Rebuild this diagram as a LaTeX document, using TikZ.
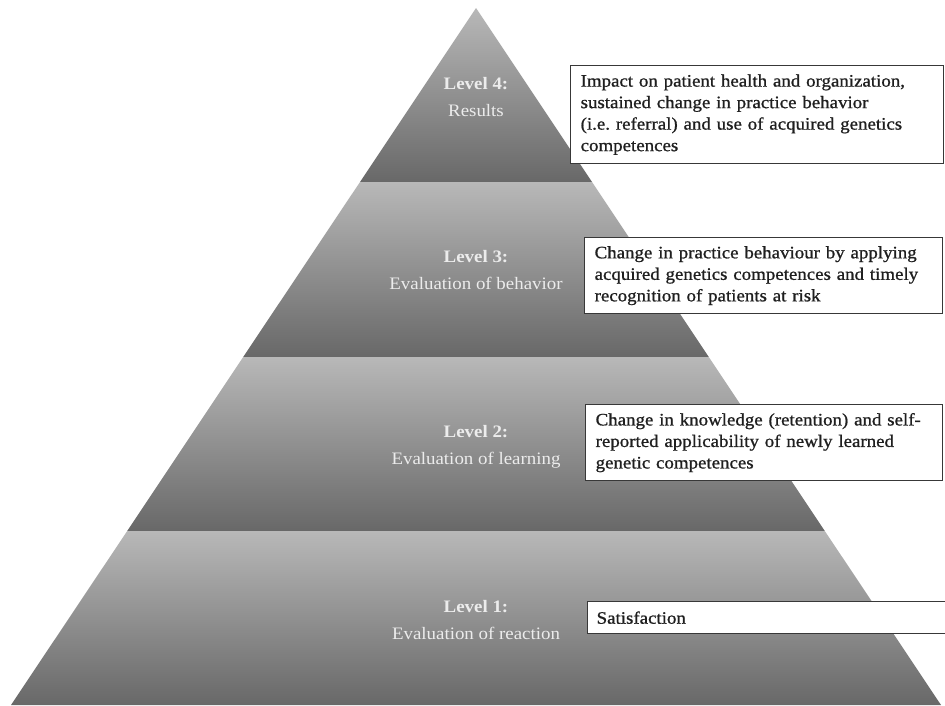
\documentclass[tikz,border=0pt]{standalone}
\usepackage{fontspec}
\setmainfont[FakeStretch=1.08]{Liberation Serif}
\newfontfamily\boxfont[FakeStretch=1.08,FakeBold=0.9]{Liberation Serif}
\begin{document}
\begin{tikzpicture}[x=1pt,y=-1pt,
  band/.style={top color=bandtop,bottom color=bandbot,draw=none},
  lvl/.style={text=labelgray,align=center,font=\fontsize{17.5}{27}\selectfont,inner sep=0pt},
  infobox/.style={draw=black!78,line width=1.3pt,fill=white,anchor=north west,
    align=left,inner ysep=0pt,font=\boxfont\fontsize{17.5}{21.5}\selectfont,text=black!88}]
\definecolor{bandtop}{RGB}{184,184,184}
\definecolor{bandbot}{RGB}{104,104,104}
\definecolor{labelgray}{RGB}{236,236,236}
\useasboundingbox (0,0) rectangle (945,705);
\fill[white] (0,0) rectangle (945,705);

% pyramid corners
\coordinate (apex) at (476,8);
\coordinate (l4) at (360,182);   \coordinate (r4) at (592,182);
\coordinate (l3) at (243.2,357); \coordinate (r3) at (708.8,357);
\coordinate (l2) at (127.2,531); \coordinate (r2) at (824.8,531);
\coordinate (l1) at (11,705);    \coordinate (r1) at (941,705);

% four shaded bands, top to bottom
\shade[band] (apex) -- (r4) -- (l4) -- cycle;
\shade[band] (l4) -- (r4) -- (r3) -- (l3) -- cycle;
\shade[band] (l3) -- (r3) -- (r2) -- (l2) -- cycle;
\shade[band] (l2) -- (r2) -- (r1) -- (l1) -- cycle;

% level labels
\node[lvl] (t4) at (476,97) {\textbf{Level 4:}\\Results};
\node[lvl] (t3) at (476,270) {\textbf{Level 3:}\\Evaluation of behavior};
\node[lvl] (t2) at (476,447) {\textbf{Level 2:}\\Evaluation of learning};
\node[lvl] (t1) at (476,620) {\textbf{Level 1:}\\Evaluation of reaction};

% description boxes
\node[infobox,inner xsep=10pt,text width=353pt,minimum height=98pt] (b4) at (570,65)
  {Impact on patient health and organization,\\sustained change in practice behavior\\(i.e.\ referral) and use of acquired genetics\\competences};
\node[infobox,inner xsep=10pt,text width=338pt,minimum height=76pt] (b3) at (584,237)
  {Change in practice behaviour by applying\\acquired genetics competences and timely\\recognition of patients at risk};
\node[infobox,inner xsep=10pt,text width=337pt,minimum height=76pt] (b2) at (585,404)
  {Change in knowledge (retention) and self-\\reported applicability of newly learned\\genetic competences};
\node[infobox,inner xsep=9pt,text width=343pt,minimum height=32pt] (b1) at (587,601)
  {Satisfaction};
\end{tikzpicture}
\end{document}
